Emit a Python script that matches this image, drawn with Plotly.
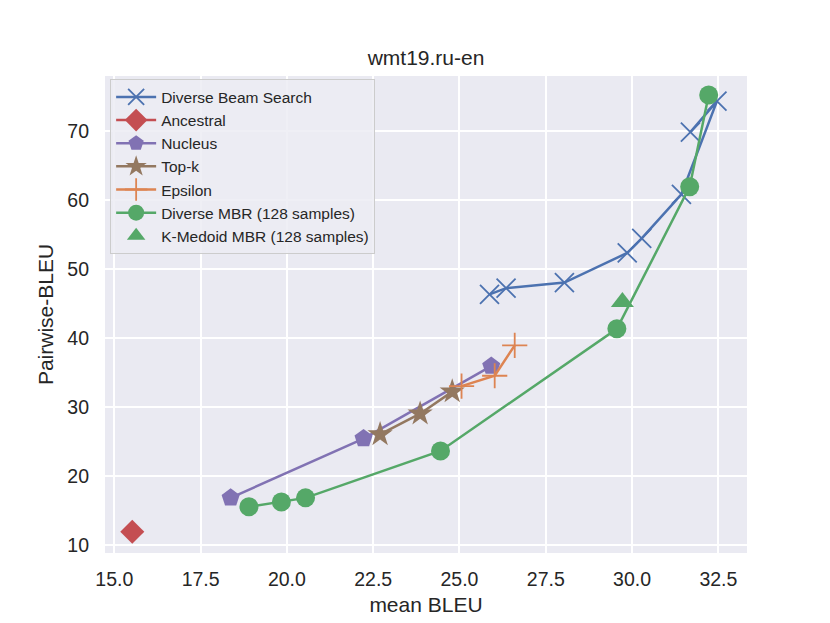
import plotly.graph_objects as go

# Diverse Beam Search
dbs_x = [25.87, 26.35, 28.04, 29.86, 30.28, 31.43, 32.46, 31.69]
dbs_y = [46.4, 47.3, 48.1, 52.4, 54.5, 60.9, 74.4, 69.9]

# Ancestral
anc_x = [15.52]
anc_y = [12.0]

# Nucleus
nuc_x = [18.37, 22.22, 25.92]
nuc_y = [16.9, 25.5, 36.0]

# Top-k
topk_x = [22.70, 23.86, 24.79]
topk_y = [26.1, 29.1, 32.3]

# Epsilon
eps_x = [25.06, 26.02, 26.60]
eps_y = [33.1, 34.6, 39.0]

# Diverse MBR (128 samples)
dmbr_x = [18.90, 19.84, 20.54, 24.45, 29.56, 31.67, 32.22]
dmbr_y = [15.6, 16.3, 16.9, 23.7, 41.4, 62.0, 75.3]

# K-Medoid MBR (128 samples)
kmed_x = [29.72]
kmed_y = [45.3]

x_ticks = [15.0, 17.5, 20.0, 22.5, 25.0, 27.5, 30.0, 32.5]
y_ticks = [10, 20, 30, 40, 50, 60, 70]

fig = go.Figure()

fig.add_trace(go.Scatter(x=dbs_x, y=dbs_y, mode='lines+markers', name='Diverse Beam Search',
                         line=dict(color='#4C72B0', width=2.5),
                         marker=dict(symbol='x-thin', size=19, line=dict(color='#4C72B0', width=1.8))))
fig.add_trace(go.Scatter(x=anc_x, y=anc_y, mode='lines+markers', name='Ancestral',
                         line=dict(color='#C44E52', width=2.5),
                         marker=dict(symbol='square', angle=45, size=17, color='#C44E52')))
fig.add_trace(go.Scatter(x=nuc_x, y=nuc_y, mode='lines+markers', name='Nucleus',
                         line=dict(color='#8172B3', width=2.5),
                         marker=dict(symbol='pentagon', size=19, color='#8172B3')))
fig.add_trace(go.Scatter(x=topk_x, y=topk_y, mode='lines+markers', name='Top-k',
                         line=dict(color='#937860', width=2.5),
                         marker=dict(symbol='star', size=19, color='#937860')))
fig.add_trace(go.Scatter(x=eps_x, y=eps_y, mode='lines+markers', name='Epsilon',
                         line=dict(color='#DD8452', width=2.5),
                         marker=dict(symbol='cross-thin', size=18, line=dict(color='#DD8452', width=1.8))))
fig.add_trace(go.Scatter(x=dmbr_x, y=dmbr_y, mode='lines+markers', name='Diverse MBR (128 samples)',
                         line=dict(color='#55A868', width=2.5),
                         marker=dict(symbol='circle', size=19, color='#55A868')))
fig.add_trace(go.Scatter(x=kmed_x, y=kmed_y, mode='markers', name='K-Medoid MBR (128 samples)',
                         marker=dict(symbol='triangle-up', size=20, color='#55A868')))

fig.update_layout(
    width=830, height=623,
    title=dict(text='wmt19.ru-en', xref='paper', x=0.5, xanchor='center',
               y=0.92, yanchor='middle', font=dict(size=21, color='#262626')),
    font=dict(family='Liberation Sans, Arial, sans-serif', color='#262626'),
    paper_bgcolor='white',
    plot_bgcolor='#EAEAF2',
    margin=dict(l=97, r=91, t=68, b=78),
    xaxis=dict(title=dict(text='mean BLEU', font=dict(size=21), standoff=8),
               range=[14.73, 33.33], tickvals=x_ticks, ticktext=[f'{v:.1f}' for v in x_ticks],
               showgrid=True, gridcolor='white', gridwidth=1.5, zeroline=False,
               tickfont=dict(size=19.5), ticks='', ticklabelstandoff=12),
    yaxis=dict(title=dict(text='Pairwise-BLEU', font=dict(size=21), standoff=7),
               range=[8.91, 78.04], tickvals=y_ticks,
               showgrid=True, gridcolor='white', gridwidth=1.5, zeroline=False,
               tickfont=dict(size=19.5), ticks='', ticklabelstandoff=15),
    legend=dict(x=0.008, y=0.993, xanchor='left', yanchor='top',
                bgcolor='rgba(236,236,243,0.85)', bordercolor='#CCCCCC', borderwidth=1,
                font=dict(size=15.5), itemwidth=40),
)

fig.write_html("out.html")
